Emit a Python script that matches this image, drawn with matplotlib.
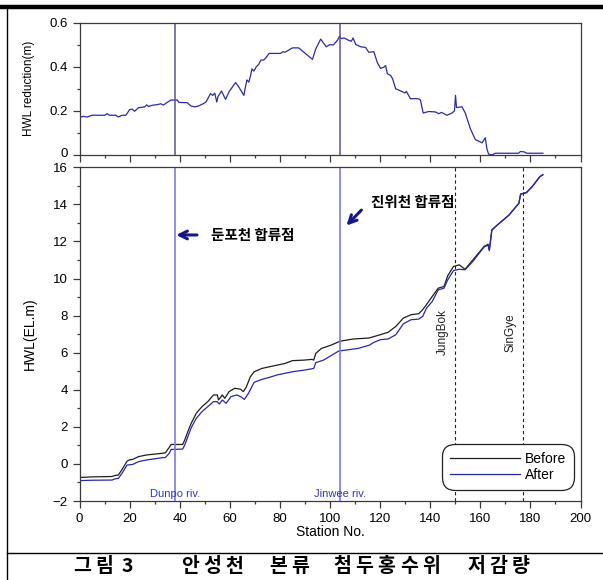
import numpy as np
import matplotlib
matplotlib.use('Agg')
import matplotlib.pyplot as plt
import matplotlib.transforms as mtransforms
from matplotlib.ticker import MultipleLocator
from matplotlib.lines import Line2D

plt.rcParams['font.family'] = ['Liberation Sans', 'Noto Sans CJK KR', 'DejaVu Sans']

# top panel: HWL reduction (m)
red_sta = [0, 1.5, 3, 5, 10, 11, 12, 14.5, 15.5, 17, 18.5, 20, 21, 22, 23.5, 26, 26.8, 27.5,
           29, 31, 32.5, 33.5, 35, 36.5, 39, 39.7, 43, 44.5, 46, 47.5, 49, 50.5, 52.3, 53.2,
           54, 54.8, 55.3, 56.7, 58.3, 59.8, 62.3, 63.5, 65.6, 66.8, 67.6, 68.3, 68.8, 69.6,
           70.6, 71.5, 72.4, 73.5, 74.4, 75.7, 80.3, 81.2, 82, 85, 87.5, 93, 94.3, 96.3, 97.5,
           98.5, 100, 101.3, 103, 103.8, 104.5, 105.6, 107.3, 108.5, 109.2, 110.3, 112.3,
           114.2, 115.5, 117.5, 118.9, 120.2, 121.5, 122.2, 122.9, 124.2, 125, 126.2, 128.2,
           129.9, 130.5, 132.1, 135.2, 136.1, 137.2, 139.4, 142.1, 143.5, 144.5, 146.7, 148.7,
           149.7, 150.1, 150.5, 152.7, 154, 156, 158, 160.7, 162, 162.6, 163.3, 164.7, 166,
           175.3, 176, 177.5, 178.6, 185]
red_val = [0.17, 0.175, 0.172, 0.18, 0.18, 0.187, 0.18, 0.18, 0.172, 0.18, 0.18, 0.205, 0.208,
           0.198, 0.214, 0.218, 0.227, 0.22, 0.225, 0.228, 0.232, 0.226, 0.238, 0.249, 0.249,
           0.238, 0.237, 0.222, 0.218, 0.222, 0.23, 0.24, 0.278, 0.27, 0.28, 0.24, 0.265, 0.29,
           0.252, 0.288, 0.328, 0.31, 0.27, 0.34, 0.33, 0.36, 0.39, 0.38, 0.4, 0.41, 0.43, 0.43,
           0.44, 0.46, 0.46, 0.468, 0.465, 0.485, 0.485, 0.433, 0.48, 0.525, 0.505, 0.49, 0.5,
           0.498, 0.52, 0.538, 0.527, 0.53, 0.52, 0.515, 0.53, 0.5, 0.49, 0.487, 0.465, 0.468,
           0.418, 0.392, 0.398, 0.405, 0.368, 0.36, 0.345, 0.3, 0.29, 0.281, 0.288, 0.255,
           0.255, 0.249, 0.19, 0.197, 0.195, 0.187, 0.193, 0.18, 0.19, 0.2, 0.27, 0.215, 0.218,
           0.19, 0.12, 0.07, 0.055, 0.078, 0.03, 0.004, 0.0, 0.008, 0.008, 0.016, 0.014, 0.008,
           0.008]

# bottom panel: HWL before / after
bef_sta = [0, 5, 12.8, 14.3, 15.5, 17, 19, 20, 21.2, 23.5, 26.6, 32.8, 34.3, 35.8, 36.6, 41.2,
           42, 43.5, 44.6, 46.6, 48.9, 51.2, 53.5, 55, 55.5, 57, 58, 59.7, 62, 64.3, 65.4, 66.6,
           68.2, 69.7, 72.8, 75.8, 78.9, 82, 85, 89.7, 92.8, 93.5, 94.3, 96.6, 100.5, 104,
           109.4, 115.5, 120.1, 123.2, 126.3, 129.3, 132.4, 135.4, 137, 138.5, 140.8, 143.2,
           145.5, 147, 149.3, 151.6, 153.9, 157, 161.5, 163.1, 163.6, 164.6, 166.9, 171.5,
           175.4, 176.1, 178.4, 180.7, 183.8, 185]
bef_val = [-0.73, -0.7, -0.68, -0.62, -0.6, -0.3, 0.15, 0.22, 0.24, 0.39, 0.48, 0.57, 0.6, 0.89,
           1.05, 1.05, 1.29, 1.83, 2.19, 2.73, 3.09, 3.36, 3.72, 3.72, 3.45, 3.72, 3.54, 3.9,
           4.08, 4.03, 3.9, 4.15, 4.7, 4.97, 5.15, 5.24, 5.33, 5.42, 5.57, 5.6, 5.64, 5.6, 5.96,
           6.23, 6.41, 6.62, 6.74, 6.79, 6.97, 7.1, 7.42, 7.87, 8.05, 8.1, 8.32, 8.59, 9.03,
           9.48, 9.57, 10.15, 10.65, 10.74, 10.5, 11.0, 11.73, 11.85, 11.55, 12.63, 12.9,
           13.43, 14.06, 14.56, 14.64, 14.96, 15.5, 15.6]

aft_sta = [0, 5, 13, 14.3, 15.5, 17, 19, 21.2, 23.5, 26.6, 32.8, 34.3, 35.8, 36.6, 41.2, 42,
           43.5, 44.6, 46.6, 48.9, 51.2, 53.5, 55, 55.8, 57, 58.5, 60.5, 62.8, 64.3, 65.8, 67.4,
           69.7, 72.8, 75.8, 78.9, 85, 89.7, 93.5, 94.3, 97.4, 103.5, 111.2, 115.8, 117.4,
           120.1, 123.2, 126.3, 129.3, 132.4, 135.4, 137, 138.5, 140.8, 143.2, 145.5, 147,
           149.3, 151.6, 153.9, 157, 161.5, 163.1, 163.6, 164.6, 166.9, 171.5, 175.4, 176.1,
           178.4, 180.7, 183.8, 185]
aft_val = [-0.9, -0.88, -0.87, -0.8, -0.78, -0.5, -0.06, -0.03, 0.12, 0.21, 0.33, 0.35, 0.57,
           0.78, 0.8, 1.02, 1.56, 1.95, 2.46, 2.82, 3.09, 3.36, 3.36, 3.23, 3.45, 3.27, 3.63,
           3.72, 3.63, 3.48, 3.8, 4.4, 4.56, 4.67, 4.8, 4.97, 5.06, 5.15, 5.46, 5.6, 6.09, 6.23,
           6.41, 6.55, 6.7, 6.74, 6.97, 7.56, 7.78, 7.81, 7.96, 8.4, 8.76, 9.39, 9.48, 9.93,
           10.43, 10.5, 10.47, 10.92, 11.7, 11.8, 11.5, 12.6, 12.9, 13.43, 14.06, 14.55, 14.63,
           14.95, 15.5, 15.6]

confluence_sta = [38, 104]
confluence_lbl = ['Dunpo riv.', 'Jinwee riv.']
gauge_sta = [150, 177]
gauge_lbl = ['JungBok', 'SinGye']

W, H = 603, 580
fig = plt.figure(figsize=(W / 100, H / 100), dpi=100)

def box(l, t, r, b):
    return [l / W, 1 - b / H, (r - l) / W, (b - t) / H]

ax1 = fig.add_axes(box(79.5, 22.5, 580.5, 155))
ax2 = fig.add_axes(box(79.5, 167.3, 580.5, 501))

spine_c = '#3a3a3a'
for ax in (ax1, ax2):
    for s in ax.spines.values():
        s.set_color(spine_c)
        s.set_linewidth(0.9)
    ax.set_xlim(0, 200)
    ax.xaxis.set_major_locator(MultipleLocator(20))
    ax.xaxis.set_minor_locator(MultipleLocator(10))
    ax.tick_params(which='both', direction='out', top=False, right=False,
                   color=spine_c, width=0.9, labelsize=9.5)
    ax.tick_params(which='major', length=5)
    ax.tick_params(which='minor', length=2.5)

# top panel
ax1.plot(red_sta, red_val, color='#2b2ba8', lw=0.9)
for s in confluence_sta:
    ax1.axvline(s, color='#55559a', lw=1.1)
ax1.set_ylim(0, 0.6)
ax1.yaxis.set_minor_locator(MultipleLocator(0.1))
ax1.set_yticks([0, 0.2, 0.4, 0.6], ['0', '0.2', '0.4', '0.6'])
ax1.tick_params(axis='x', labelbottom=False)
ax1.set_ylabel('HWL reduction(m)', fontsize=8.5)
ax1.yaxis.set_label_coords(-0.088, 0.5)

# bottom panel
ax2.plot(bef_sta, bef_val, color='#1e1e1e', lw=0.9)
ax2.plot(aft_sta, aft_val, color='#2626b4', lw=0.9)
for s, lbl in zip(confluence_sta, confluence_lbl):
    ax2.axvline(s, color='#7b7be0', lw=1.2)
    ax2.text(s, -1.62, lbl, color='#3434c8', fontsize=8, ha='center', va='center')
for s, lbl in zip(gauge_sta, gauge_lbl):
    ax2.axvline(s, color='#222222', lw=0.8, ls=(0, (3, 2.5)))
    ax2.text(s - 2.5, 7.1, lbl, rotation=90, fontsize=8.5, ha='right', va='center',
             color='#222222')
ax2.set_ylim(-2, 16)
ax2.yaxis.set_major_locator(MultipleLocator(2))
ax2.yaxis.set_minor_locator(MultipleLocator(1))
ax2.set_xlabel('Station No.', fontsize=10, labelpad=0)
ax2.set_ylabel('HWL(EL.m)', fontsize=10)
ax2.yaxis.set_label_coords(-0.085, 0.5)

# keep the touching "0" / "16" labels apart a little
fig.canvas.draw()
up = mtransforms.ScaledTranslation(0, 2 / 100, fig.dpi_scale_trans)
down = mtransforms.ScaledTranslation(0, -2 / 100, fig.dpi_scale_trans)
ax1.get_yticklabels()[0].set_transform(ax1.get_yticklabels()[0].get_transform() + up)
ax2.get_yticklabels()[-1].set_transform(ax2.get_yticklabels()[-1].get_transform() + down)

arrow_c = '#16168a'
ax2.annotate('', xy=(37.5, 12.35), xytext=(48, 12.35),
             arrowprops=dict(arrowstyle='->', color=arrow_c, lw=2.2, mutation_scale=14))
ax2.text(52.5, 12.35, '둔포천 합류점', fontsize=10.5, fontweight='bold', va='center',
         family=['Noto Sans CJK KR'])
ax2.annotate('', xy=(105.8, 12.75), xytext=(113.3, 13.8),
             arrowprops=dict(arrowstyle='->', color=arrow_c, lw=2.2, mutation_scale=14))
ax2.text(116.3, 14.15, '진위천 합류점', fontsize=10.5, fontweight='bold', va='center',
         family=['Noto Sans CJK KR'])

handles = [Line2D([], [], color='#1e1e1e', lw=0.9), Line2D([], [], color='#2626b4', lw=0.9)]
leg = ax2.legend(handles, ['Before', 'After'], loc='lower right',
                 bbox_to_anchor=(0.987, 0.033), borderaxespad=0, fontsize=10,
                 handlelength=5.0, handletextpad=0.4, labelspacing=0.2, borderpad=0.55,
                 framealpha=1, fancybox=True, edgecolor='#222222')
leg.get_frame().set_linewidth(0.9)
leg.get_frame().set_boxstyle('round', pad=0, rounding_size=0.9)

# document frame lines
fig.add_artist(Line2D([0, 1], [1 - 6.7 / H] * 2, color='black', lw=3.2))
fig.add_artist(Line2D([7 / W] * 2, [0, 1 - 6.7 / H], color='black', lw=1.0))
fig.add_artist(Line2D([7 / W, 1], [1 - 552.7 / H] * 2, color='black', lw=1.0))

# caption
words = ['그림', '3', '안성천', '본류', '첨두홍수위', '저감량']
starts = [73, 122, 181, 269, 333, 467]
for w, x0 in zip(words, starts):
    for i, ch in enumerate(w):
        fig.text((x0 + i * 22.3) / W, 1 - 566.5 / H, ch, fontsize=14, fontweight='bold',
                 va='center', ha='left', family=['Noto Sans CJK KR'])

fig.savefig('out.png', dpi=100)
